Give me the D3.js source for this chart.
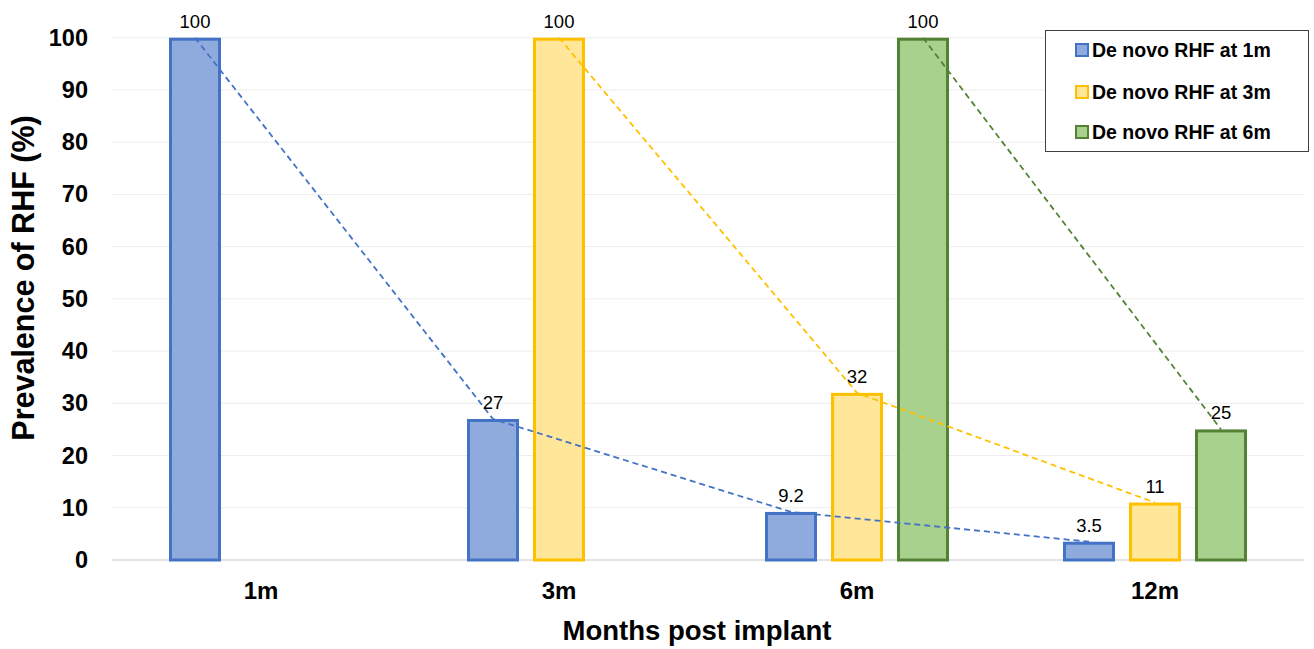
<!DOCTYPE html>
<html><head><meta charset="utf-8">
<script src="https://cdn.jsdelivr.net/npm/d3@7"></script>
<style>body{margin:0;background:#fff}svg{display:block;font-family:"Liberation Sans",Arial,sans-serif}</style>
</head><body><svg id="c" width="1314" height="649"></svg>
<script>
const categories = ["1m","3m","6m","12m"];
const seriesNames = ["De novo RHF at 1m","De novo RHF at 3m","De novo RHF at 6m"];
const blueValues = [100, 27, 9.2, 3.5];
const yellowValues = [null, 100, 32, 11];
const greenValues = [null, null, 100, 25];
const labelsText = [["100","27","9.2","3.5"],[null,"100","32","11"],[null,null,"100","25"]];
const yTicks = [0,10,20,30,40,50,60,70,80,90,100];

const fills = ["#8FAADC","#FFE699","#A9D18E"];
const strokes = ["#4472C4","#FFC000","#548235"];
const series = [blueValues, yellowValues, greenValues];

const svg = d3.select("#c");
const L = 112, R = 1304, T = 37.7, B = 560;
const x0 = d3.scaleBand().domain(categories).range([L, R]).padding(0);
const pi = 14/66;
const x1 = d3.scaleBand().domain(seriesNames).range([50, 248]).paddingInner(pi).paddingOuter(pi/2);
const y = d3.scaleLinear().domain([0,100]).range([B, T]);

// grid
svg.append("g").selectAll("line").data(yTicks).join("line")
  .attr("x1", L).attr("x2", R).attr("y1", d=>y(d)).attr("y2", d=>y(d))
  .attr("stroke", d=> d===0 ? "#d9d9d9" : "#ececec").attr("stroke-width", d=>d===0?1.5:1);

// y axis labels
const yAxis = d3.axisLeft(y).tickValues(yTicks).tickSize(0).tickPadding(0);
const ya = svg.append("g").attr("transform", `translate(88,0)`).call(yAxis);
ya.select(".domain").remove();
ya.selectAll("text").attr("font-size", 23.5).attr("font-weight","bold").attr("fill","#000")
  .attr("font-family","'Liberation Sans',Arial,sans-serif");

// x axis labels
const xAxis = d3.axisBottom(x0).tickSize(0).tickPadding(0);
const xa = svg.append("g").attr("transform", `translate(0,582)`).call(xAxis);
xa.select(".domain").remove();
xa.selectAll("text").attr("font-size", 24).attr("font-weight","bold").attr("fill","#000")
  .attr("font-family","'Liberation Sans',Arial,sans-serif");

// bars
series.forEach((vals, si) => {
  const g = svg.append("g");
  vals.forEach((v, ci) => {
    if (v == null) return;
    const bx = x0(categories[ci]) + x1(seriesNames[si]);
    g.append("rect").attr("x", bx+1.5).attr("y", y(v)+1.5)
      .attr("width", x1.bandwidth()-3).attr("height", Math.max(0, y(0)-y(v)-1.5))
      .attr("fill", fills[si]).attr("stroke", strokes[si]).attr("stroke-width", 3);
  });
});

// dashed lines
series.forEach((vals, si) => {
  const pts = vals.map((v, ci) => v==null ? null : [x0(categories[ci]) + x1(seriesNames[si]) + x1.bandwidth()/2, y(v)]).filter(p=>p);
  svg.append("path").attr("d", d3.line()(pts)).attr("fill","none")
    .attr("stroke", strokes[si]).attr("stroke-width", 1.8).attr("stroke-dasharray","6,4");
});

// data labels
series.forEach((vals, si) => {
  vals.forEach((v, ci) => {
    if (v == null) return;
    const cx = x0(categories[ci]) + x1(seriesNames[si]) + x1.bandwidth()/2;
    svg.append("text").attr("x", cx).attr("y", y(v)-10).attr("text-anchor","middle")
      .attr("font-size", 18.5).attr("fill","#000").text(labelsText[si][ci]);
  });
});

// axis titles
svg.append("text").attr("x", 697).attr("y", 640).attr("text-anchor","middle")
  .attr("font-size", 27.5).attr("font-weight","bold").text("Months post implant");
svg.append("text").attr("transform","translate(34,278) rotate(-90)").attr("text-anchor","middle")
  .attr("font-size", 30.5).attr("font-weight","bold").text("Prevalence of RHF (%)");

// legend
const lg = svg.append("g");
lg.append("rect").attr("x",1045.5).attr("y",30.5).attr("width",263).attr("height",121)
  .attr("fill","#fff").attr("stroke","#404040").attr("stroke-width",1);
const rowsY = [50, 92, 132];
seriesNames.forEach((n, i) => {
  lg.append("rect").attr("x",1076).attr("y",rowsY[i]-6).attr("width",12).attr("height",12)
    .attr("fill", fills[i]).attr("stroke", strokes[i]).attr("stroke-width",2);
  lg.append("text").attr("x",1092).attr("y",rowsY[i]+7).attr("font-size",19.5).attr("font-weight","bold").text(n);
});
</script></body></html>
